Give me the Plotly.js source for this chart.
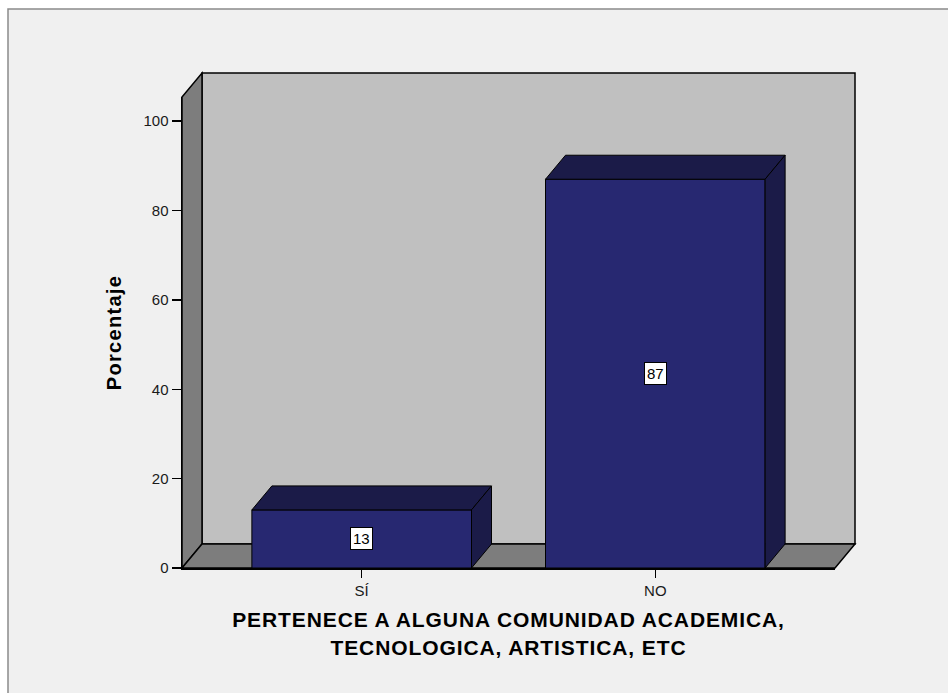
<!DOCTYPE html>
<html>
<head>
<meta charset="utf-8">
<script src="https://cdn.plot.ly/plotly-3.0.1.min.js"></script>
<style>
html,body{margin:0;padding:0;background:#ffffff;}
#chart{width:948px;height:693px;}
#chart .xtitle{letter-spacing:0.9px;}
#chart .ytitle{letter-spacing:1.3px;}
</style>
</head>
<body>
<div id="chart"></div>
<script>
// ---- data ----
const categories = ["SÍ", "NO"];
const percentages = [13, 87];
const yTicks = [0, 20, 40, 60, 80, 100];
const yTickLabels = ["0", "20", "40", "60", "80", "100"];
const xTitle = "PERTENECE A ALGUNA COMUNIDAD ACADEMICA,<br>TECNOLOGICA, ARTISTICA, ETC";
const yTitle = "Porcentaje";

// ---- geometry / style ----
const W = 948, H = 693;
const M = {l: 182, r: 113, t: 97, b: 125};
const plotW = W - M.l - M.r, plotH = H - M.t - M.b;
const xRange = [-0.612, 1.612];
const yRange = [0, 105.4];
const depthPx = {x: 20, y: 24};
const barWidth = 0.748;
const frontColor = "rgb(39,40,113)";
const darkColor = "rgb(27,27,72)";
const backWall = "#c0c0c0";
const sideWall = "#7d7d7d";
const fontFam = "Liberation Sans, Arial, sans-serif";

const dxD = depthPx.x / (plotW / (xRange[1] - xRange[0]));
const dyD = depthPx.y / (plotH / (yRange[1] - yRange[0]));
const dxP = depthPx.x / plotW, dyP = depthPx.y / plotH;

const xs = categories.map((c, i) => i);

const traces = [{
  type: "bar", x: xs, y: percentages, width: barWidth,
  marker: {color: frontColor, line: {color: "#000", width: 1}},
  hoverinfo: "skip", showlegend: false
}];

xs.forEach((x, i) => {
  const v = percentages[i];
  const x0 = x - barWidth / 2, x1 = x + barWidth / 2;
  // top face
  traces.push({
    type: "scatter", mode: "lines", fill: "toself", fillcolor: darkColor,
    line: {color: "#000", width: 1},
    x: [x0, x1, x1 + dxD, x0 + dxD, x0],
    y: [v, v, v + dyD, v + dyD, v],
    hoverinfo: "skip", showlegend: false
  });
  // side face
  traces.push({
    type: "scatter", mode: "lines", fill: "toself", fillcolor: darkColor,
    line: {color: "#000", width: 1},
    x: [x1, x1, x1 + dxD, x1 + dxD, x1],
    y: [0, v, v + dyD, dyD, 0],
    hoverinfo: "skip", showlegend: false
  });
});

function px2paperX(p) { return (p - M.l) / plotW; }
function px2paperY(p) { return (H - M.b - p) / plotH; }
function path(pts) { return "M" + pts.map(p => p[0] + "," + p[1]).join("L") + "Z"; }

const shapes = [
  // outer frame
  {type: "rect", xref: "paper", yref: "paper", layer: "below",
   x0: px2paperX(8), x1: px2paperX(980), y0: px2paperY(720), y1: px2paperY(9),
   fillcolor: "#f0f0f0", line: {color: "#8a8a8a", width: 1.5}},
  // back wall
  {type: "rect", xref: "paper", yref: "paper", layer: "below",
   x0: dxP, x1: 1 + dxP, y0: dyP, y1: 1 + dyP,
   fillcolor: backWall, line: {color: "#000", width: 1.5}},
  // left wall
  {type: "path", xref: "paper", yref: "paper", layer: "below",
   path: path([[0, 0], [dxP, dyP], [dxP, 1 + dyP], [0, 1]]),
   fillcolor: sideWall, line: {color: "#000", width: 1.5}},
  // floor
  {type: "path", xref: "paper", yref: "paper", layer: "below",
   path: path([[0, 0], [1, 0], [1 + dxP, dyP], [dxP, dyP]]),
   fillcolor: sideWall, line: {color: "#000", width: 1.5}}
];

const annotations = xs.map((x, i) => ({
  x: x, y: percentages[i] / 2, xref: "x", yref: "y",
  text: String(percentages[i]), showarrow: false,
  bgcolor: "#ffffff", bordercolor: "#000", borderwidth: 1, borderpad: 2,
  font: {family: fontFam, size: 15, color: "#000"}
}));

const layout = {
  width: W, height: H, margin: M,
  paper_bgcolor: "#ffffff", plot_bgcolor: "rgba(0,0,0,0)",
  font: {family: fontFam, color: "#222"},
  showlegend: false,
  bargap: 0,
  xaxis: {
    range: xRange, tickvals: xs, ticktext: categories,
    showline: true, linecolor: "#000", linewidth: 1.5,
    ticks: "outside", ticklen: 8, tickcolor: "#000", tickwidth: 1.5,
    showgrid: false, zeroline: false, fixedrange: true,
    tickfont: {size: 15, color: "#1a1a1a"},
    title: {text: xTitle, standoff: 15,
            font: {size: 21, color: "#000", family: fontFam, weight: "bold"}}
  },
  yaxis: {
    range: yRange, tickvals: yTicks, ticktext: yTickLabels,
    showline: true, linecolor: "#000", linewidth: 1.5,
    ticks: "outside", ticklen: 9, tickcolor: "#000", tickwidth: 1.5,
    showgrid: false, zeroline: false, fixedrange: true,
    tickfont: {size: 15, color: "#1a1a1a"},
    title: {text: yTitle, standoff: 16,
            font: {size: 20, color: "#000", family: fontFam, weight: "bold"}}
  },
  shapes: shapes,
  annotations: annotations
};

Plotly.newPlot("chart", traces, layout, {staticPlot: true, displayModeBar: false});
</script>
</body>
</html>
